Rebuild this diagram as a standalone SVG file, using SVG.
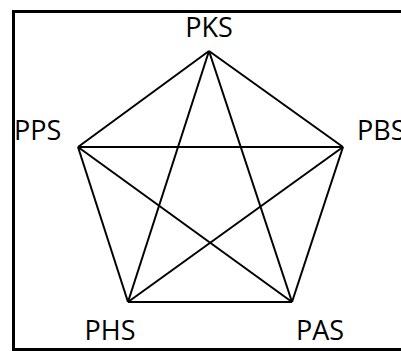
<svg xmlns="http://www.w3.org/2000/svg" width="401" height="351" viewBox="0 0 401 351">
<style>
.lbl{font-family:"Open Sans","Liberation Sans",sans-serif;font-size:27px;fill:#000}
.edge{stroke:#000;stroke-width:2;fill:none}
</style>
<rect width="401" height="351" fill="#fff"/>
<rect x="13.5" y="11.5" width="400" height="338" fill="#fff" stroke="#000" stroke-width="3"/>
<g id="connectors">
<line class="edge" x1="209" y1="51" x2="78" y2="147"/>
<line class="edge" x1="209" y1="51" x2="343" y2="147"/>
<line class="edge" x1="209" y1="51" x2="128" y2="302"/>
<line class="edge" x1="209" y1="51" x2="292" y2="302"/>
<line class="edge" x1="78" y1="147" x2="343" y2="147"/>
<line class="edge" x1="78" y1="147" x2="128" y2="302"/>
<line class="edge" x1="78" y1="147" x2="292" y2="302"/>
<line class="edge" x1="343" y1="147" x2="128" y2="302"/>
<line class="edge" x1="343" y1="147" x2="292" y2="302"/>
<line class="edge" x1="128" y1="302" x2="292" y2="302"/>
</g>
<g id="PKS"><text class="lbl" x="209" y="37" text-anchor="middle">PKS</text></g>
<g id="PPS"><text class="lbl" x="14" y="140">PPS</text></g>
<g id="PBS"><text class="lbl" x="357" y="140">PBS</text></g>
<g id="PHS"><text class="lbl" x="110" y="340" text-anchor="middle">PHS</text></g>
<g id="PAS"><text class="lbl" x="320" y="340" text-anchor="middle">PAS</text></g>
</svg>
